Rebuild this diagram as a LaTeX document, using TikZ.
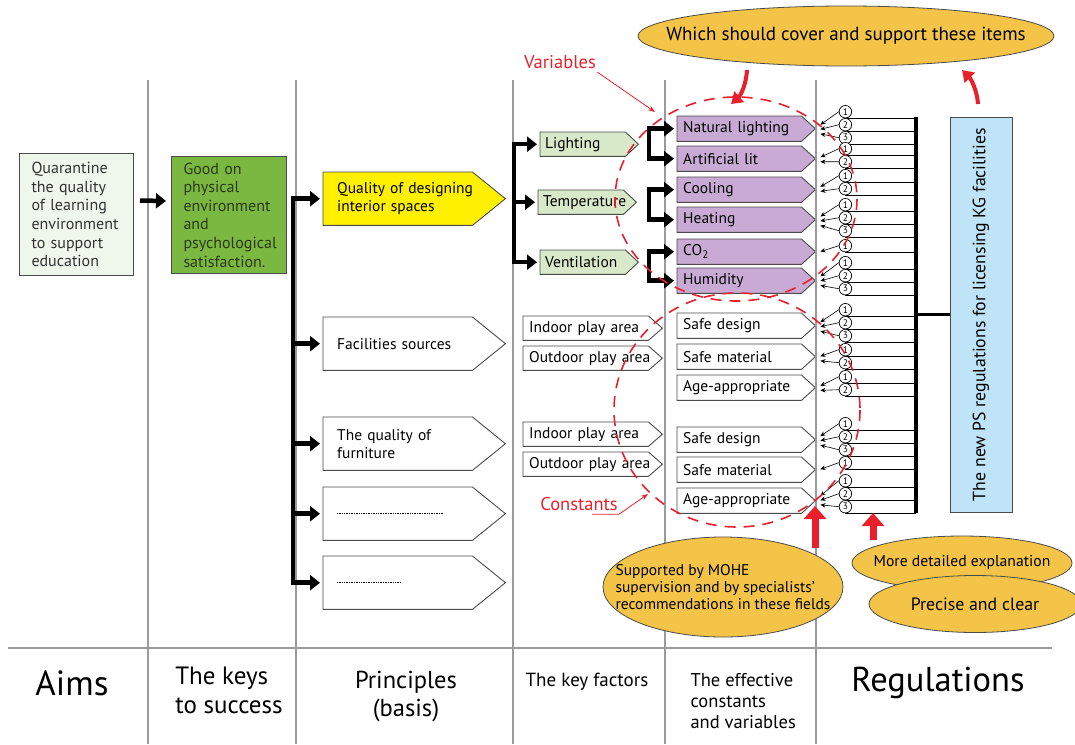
\documentclass[tikz,border=0pt]{standalone}
\usepackage{fontspec}
\setmainfont{PT Sans}
\usetikzlibrary{positioning, arrows.meta, shapes.geometric, calc, backgrounds}

\definecolor{aimpale}{RGB}{239,246,236}
\definecolor{goodgreen}{RGB}{122,184,66}
\definecolor{goodtext}{RGB}{44,56,22}
\definecolor{designyellow}{RGB}{255,240,0}
\definecolor{factorgreen}{RGB}{216,233,201}
\definecolor{varlilac}{RGB}{201,170,212}
\definecolor{regblue}{RGB}{191,228,247}
\definecolor{ovalgold}{RGB}{243,196,72}
\definecolor{markred}{RGB}{232,32,44}
\definecolor{colgray}{RGB}{155,155,155}
\definecolor{boxgray}{RGB}{75,75,75}

\begin{document}
\begin{tikzpicture}[
        x=1pt,
        y=-1pt,
        font=\fontsize{15.5}{18}\selectfont,
        colline/.style={
            colgray,
            line width=1.2pt
        },
        bigbox/.style={
            draw=boxgray,
            line width=1pt,
            anchor=north west,
            align=left,
            inner xsep=12pt,
            inner ysep=0pt,
            font=\fontsize{16}{18.6}\selectfont
        },
        tagnode/.style={
            anchor=north west,
            align=left,
            inner ysep=0pt
        },
        principle/.style={
            tagnode,
            text width=154pt,
            inner xsep=14pt,
            minimum height=53pt
        },
        factor/.style={
            tagnode,
            text width=88pt,
            inner xsep=5pt,
            minimum height=24pt
        },
        space/.style={
            tagnode,
            text width=127pt,
            inner xsep=6pt,
            minimum height=24pt
        },
        item/.style={
            tagnode,
            text width=126pt,
            inner xsep=6pt,
            minimum height=25pt
        },
        tagline/.style={
            draw=boxgray,
            line width=0.9pt
        },
        bigarrow/.style={
            line width=4.5pt,
            -{Triangle[length=10pt,width=15pt]},
            shorten >=3pt
        },
        bracket/.style={
            line width=4.5pt,
            line cap=rect
        },
        numc/.style={
            circle,
            draw,
            line width=0.7pt,
            fill=white,
            inner sep=0pt,
            minimum size=12.5pt,
            font=\fontsize{9.5}{9.5}\selectfont
        },
        regline/.style={
            line width=0.6pt
        },
        smallarrow/.style={
            line width=0.6pt,
            -{Stealth[length=5pt,width=4.5pt]}
        },
        reddash/.style={
            markred,
            line width=1.6pt,
            dash pattern=on 11pt off 8pt
        },
        redlabel/.style={
            markred,
            font=\fontsize{18.5}{18.5}\selectfont
        },
        redthin/.style={
            markred,
            line width=0.8pt,
            -{Stealth[length=7pt,width=5pt]}
        },
        redbig/.style={
            markred,
            line width=7pt,
            -{Triangle[length=13pt,width=22pt]}
        },
        redcurve/.style={
            markred,
            line width=4pt,
            -{Triangle[length=11pt,width=14pt]}
        },
        oval/.style={
            ellipse,
            draw=boxgray,
            fill=ovalgold,
            line width=0.8pt,
            inner xsep=-60pt,
            inner ysep=0pt
        }
    ]

    \useasboundingbox (0,0) rectangle (1075,744);

    % --------------------------------------------------------
    % Column rules
    % --------------------------------------------------------

    \foreach \cx in {148,296,513,665,816} {
        \draw[colline] (\cx,80) -- (\cx,744);
    }

    \draw[
        colgray,
        line width=1.6pt
    ]
    (8,648) -- (1052,648);

    % --------------------------------------------------------
    % Aims and keys
    % --------------------------------------------------------

    \node[
        bigbox,
        fill=aimpale,
        text=black!80,
        text width=90pt,
        minimum height=122pt
    ]
    (aim)
    at (19,153)
    {Quarantine\\the quality\\of learning\\environment\\to support\\education};

    \node[
        bigbox,
        fill=goodgreen,
        text=goodtext,
        text width=91pt,
        minimum height=117pt
    ]
    (good)
    at (171,156)
    {Good on\\physical\\environment\\and\\psychological\\satisfaction.};

    \draw[
        bigarrow,
        shorten <=6pt,
        shorten >=5pt
    ]
    ([yshift=14]aim.east) -- ([yshift=14]good.west);

    % --------------------------------------------------------
    % Principles
    % --------------------------------------------------------

    \node[principle] (quality) at (323,172) {Quality of designing\\interior spaces};
    \node[principle] (facil) at (323,317) {Facilities sources};
    \node[principle] (furn) at (323,417) {The quality of\\furniture};
    \node[principle] (dotA) at (323,487) {};
    \node[principle] (dotB) at (323,556) {};

    % --------------------------------------------------------
    % Key factors
    % --------------------------------------------------------

    \node[factor] (lighting) at (540,132) {Lighting};
    \node[factor] (temp) at (538,190) {Temperature};
    \node[factor] (vent) at (540,250) {Ventilation};

    \node[space] (indoorA) at (523,316) {Indoor play area};
    \node[space] (outdoorA) at (523,346) {Outdoor play area};
    \node[space] (indoorB) at (523,422) {Indoor play area};
    \node[space] (outdoorB) at (523,452) {Outdoor play area};

    % --------------------------------------------------------
    % Variables and constants
    % --------------------------------------------------------

    \node[item] (natlight) at (677,116) {Natural lighting};
    \node[item] (artlit) at (677,146) {Artificial lit};
    \node[item] (cooling) at (677,177) {Cooling};
    \node[item] (heating) at (677,207) {Heating};
    \node[item] (cotwo) at (677,239) {CO\textsubscript{2}};
    \node[item] (humidity) at (677,268) {Humidity};

    \node[item] (sdesA) at (677,313) {Safe design};
    \node[item] (smatA) at (677,344) {Safe material};
    \node[item] (ageA) at (677,375) {Age-appropriate};
    \node[item] (sdesB) at (677,427) {Safe design};
    \node[item] (smatB) at (677,457) {Safe material};
    \node[item] (ageB) at (677,488) {Age-appropriate};

    % tag outlines behind the texts
    \begin{scope}[on background layer]
        \foreach \n/\t/\c in {
            quality/33/designyellow, facil/33/white, furn/33/white,
            dotA/33/white, dotB/33/white,
            lighting/13/factorgreen, temp/13/factorgreen, vent/13/factorgreen,
            indoorA/14/white, outdoorA/14/white,
            indoorB/14/white, outdoorB/14/white,
            natlight/14/varlilac, artlit/14/varlilac, cooling/14/varlilac,
            heating/14/varlilac, cotwo/14/varlilac, humidity/14/varlilac,
            sdesA/14/white, smatA/14/white, ageA/14/white,
            sdesB/14/white, smatB/14/white, ageB/14/white} {
            \draw[
                tagline,
                fill=\c
            ]
            (\n.north west)
            -- ([xshift=-\t]\n.north east)
            -- (\n.east)
            -- ([xshift=-\t]\n.south east)
            -- (\n.south west)
            -- cycle;
        }
    \end{scope}

    \draw[
        line width=0.8pt,
        dash pattern=on 0.8pt off 0.9pt
    ]
    ([xshift=14]dotA.west) -- ++(106,0);

    \draw[
        line width=0.8pt,
        dash pattern=on 0.8pt off 0.9pt
    ]
    ([xshift=14]dotB.west) -- ++(63,0);

    % --------------------------------------------------------
    % Brackets
    % --------------------------------------------------------

    \coordinate (pb) at (293,0);
    \coordinate (kb) at (514,0);
    \coordinate (vb) at (649,0);

    \draw[bracket] (pb |- quality.west) -- (pb |- dotB.west);
    \foreach \n in {quality,facil,furn,dotA,dotB} {
        \draw[bigarrow] (pb |- \n.west) -- (\n.west);
    }

    \draw[bracket] (kb |- lighting.west) -- (kb |- vent.west);
    \foreach \n in {lighting,temp,vent} {
        \draw[bigarrow] (kb |- \n.west) -- (\n.west);
    }

    \foreach \a/\b in {natlight/artlit, cooling/heating, cotwo/humidity} {
        \draw[bracket] (vb |- \a.west) -- (vb |- \b.west);
        \draw[bigarrow] (vb |- \a.west) -- (\a.west);
        \draw[bigarrow] (vb |- \b.west) -- (\b.west);
    }

    % --------------------------------------------------------
    % Regulations
    % --------------------------------------------------------

    \coordinate (rbtop) at (916,117);
    \coordinate (rbbot) at (916,513);

    \draw[line width=4pt] (rbtop) -- (rbbot);

    \node[
        draw=boxgray,
        fill=regblue,
        line width=0.9pt,
        rotate=90,
        minimum width=395pt,
        minimum height=62pt,
        font=\fontsize{17.8}{17.8}\selectfont
    ]
    (psreg)
    at (981,314.5)
    {The new PS regulations for licensing KG facilities};

    \draw[line width=3pt] (rbtop |- psreg.north) -- (psreg.north);

    % numbered clauses
    \foreach \n/\k/\s in {
        natlight/3/-17, artlit/2/-10, cooling/2/-14,
        heating/3/-15, cotwo/1/-6, humidity/3/-18,
        sdesA/3/-16, smatA/2/-7, ageA/2/-11,
        sdesB/3/-16, smatB/1/-7, ageB/3/-20} {
        \foreach \i in {1,...,\k} {
            \pgfmathsetmacro\off{\s+13*(\i-1)}
            \pgfmathsetmacro\aoff{0.35*(\s+13*(\i-1))+2}
            \node[numc] (\n-\i) at ($(\n.east)+(30,\off)$) {\i};
            \draw[regline] (\n-\i.south) -- (\n-\i.south -| rbtop);
            \draw[smallarrow] (\n-\i.west) -- ($(\n.east)+(5,\aoff)$);
        }
    }

    % --------------------------------------------------------
    % Variables / constants groups
    % --------------------------------------------------------

    \draw[reddash] (736,199) ellipse [x radius=121, y radius=102];
    \draw[reddash] (737,410) ellipse [x radius=123, y radius=117];

    \node[redlabel] (varlabel) at (560,62) {Variables};
    \coordinate (varhit) at (655,112);
    \draw[redthin] ([xshift=-2]varlabel.south east) -- (varhit);

    \node[redlabel] (conlabel) at (579,504) {Constants};
    \coordinate (conhit) at (648,494);
    \draw[redthin] ([xshift=13]conlabel.south) -- ++(27,0) -- (conhit);

    % --------------------------------------------------------
    % Notes
    % --------------------------------------------------------

    \coordinate (supbase) at (815,548);
    \coordinate (suptip) at (815,506);
    \draw[redbig] (supbase) -- (suptip);

    \coordinate (detbase) at (873,540);
    \coordinate (dettip) at (873,513);
    \draw[redbig] (detbase) -- (dettip);

    \node[
        oval,
        minimum width=416pt,
        minimum height=60pt,
        font=\fontsize{19}{19}\selectfont
    ]
    (cover)
    at (846,36)
    {Which should cover and support these items};

    \coordinate (covleft) at (747,70);
    \coordinate (varin) at (731,104);
    \draw[redcurve] (covleft) .. controls (746,86) and (740,96) .. (varin);

    \coordinate (regup) at (978,104);
    \coordinate (covright) at (962,70);
    \draw[redcurve] (regup) .. controls (977,90) and (971,79) .. (covright);

    \node[
        oval,
        minimum width=240pt,
        minimum height=100pt,
        align=left,
        font=\fontsize{15.5}{17}\selectfont
    ]
    (mohe)
    at (723,587)
    {Supported by MOHE\\supervision and by specialists'\\recommendations in these fields};

    \node[
        oval,
        minimum width=220pt,
        minimum height=54pt,
        font=\fontsize{15.7}{15.7}\selectfont
    ]
    (detail)
    at (962,563)
    {More detailed explanation};

    \node[
        oval,
        minimum width=212pt,
        minimum height=57pt,
        font=\fontsize{17.8}{17.8}\selectfont
    ]
    (precise)
    at (975,604)
    {Precise and clear};

    % --------------------------------------------------------
    % Column titles
    % --------------------------------------------------------

    \node[font=\fontsize{35}{35}\selectfont] (aimslabel) at (72,683) {Aims};

    \node[
        align=left,
        font=\fontsize{25}{29}\selectfont
    ]
    (keyslabel)
    at (229,690)
    {The keys\\to success};

    \node[
        align=center,
        font=\fontsize{24.5}{28}\selectfont
    ]
    (princlabel)
    at (406,697)
    {Principles\\(basis)};

    \node[font=\fontsize{19}{19}\selectfont] (factlabel) at (587,682) {The key factors};

    \node[
        anchor=west,
        align=left,
        font=\fontsize{18.5}{21}\selectfont
    ]
    (efflabel)
    at (687,701)
    {The effective\\constants\\and variables};

    \node[font=\fontsize{34.5}{34.5}\selectfont] (reglabel) at (938,683) {Regulations};

\end{tikzpicture}
\end{document}
